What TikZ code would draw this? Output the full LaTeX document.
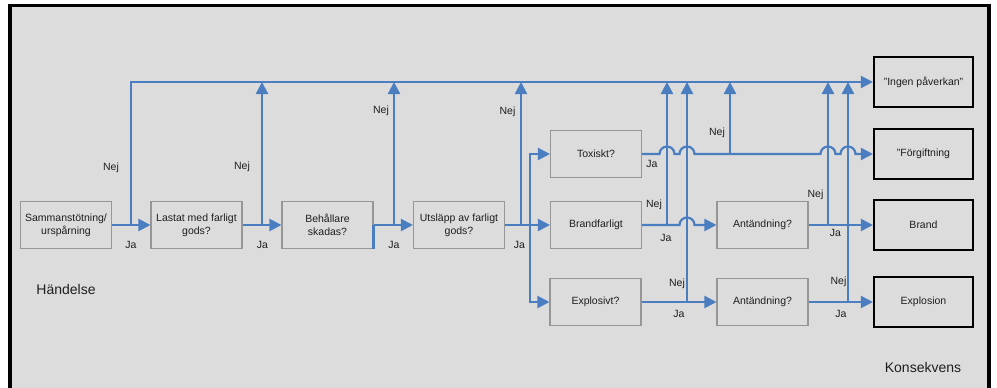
\documentclass[tikz,border=0pt]{standalone}
\usepackage{fontspec}
\setmainfont{Liberation Sans}
\usetikzlibrary{arrows.meta}
\definecolor{flow}{RGB}{74,126,193}
\definecolor{panel}{RGB}{220,220,220}
\definecolor{boxline}{RGB}{150,150,150}
\definecolor{ink}{RGB}{30,30,30}

\begin{document}
\begin{tikzpicture}[x=1pt,y=-1pt,
  every node/.style={font=\fontsize{10.5}{13}\selectfont, text=ink},
  question/.style={draw=boxline, line width=1.1pt, minimum width=91pt,
    minimum height=47pt, align=center, inner sep=1pt},
  outcome/.style={draw=black, line width=2.2pt, minimum width=99pt,
    minimum height=50pt, align=center},
  flowline/.style={draw=flow, line width=2.2pt},
  arr/.style={flowline, -{Triangle[length=12pt,width=12pt]}},
  lbl/.style={inner sep=0pt},
  heading/.style={font=\fontsize{14}{16}\selectfont}
]
\useasboundingbox (0,0) rectangle (997,388);

% panel with its black frame
\begin{scope}
  \clip (0,0) rectangle (997,388);
  \draw[line width=3.5pt, fill=panel] (10,5.5) rectangle (989,400);
\end{scope}

% decision boxes
\node[question] (q0) at (66,225) {Sammanstötning/\\urspårning};
\node[question] (q1) at (196.5,225) {Lastat med farligt\\gods?};
\node[question] (q2) at (327.5,225) {Behållare\\skadas?};
\node[question] (q3) at (459,225) {Utsläpp av farligt\\gods?};
\node[question] (tox) at (596,154) {Toxiskt?};
\node[question] (brf) at (596,225) {Brandfarligt};
\node[question] (exp) at (595.5,302) {Explosivt?};
\node[question] (ign1) at (762.5,225) {Antändning?};
\node[question] (ign2) at (762.5,302) {Antändning?};

% consequences
\node[outcome] (none) at (923.5,82) {"Ingen påverkan"};
\node[outcome] (pois) at (923.5,154) {"Förgiftning};
\node[outcome] (fire) at (923.5,225) {Brand};
\node[outcome] (blast) at (923.5,302) {Explosion};

% branch points
\coordinate (j0) at (131,225);
\coordinate (j1) at (262,225);
\coordinate (j2) at (394,225);
\coordinate (j3) at (521,225);
\coordinate (sp) at (530,225);
\coordinate (b1) at (667,225);
\coordinate (b2) at (687,302);
\coordinate (t1) at (730,154);
\coordinate (a1) at (828,225);
\coordinate (a2) at (848,302);

% "Ja" chain
\draw[arr] (q0.east) -- (q1.west);
\draw[arr] (q1.east) -- (q2.west);
\draw[flowline] (q2.east) -- (q2.south east);
\draw[arr] (q2.east) -- (q3.west);
\draw[arr] (q3.east) -- (brf.west);
\draw[arr] (sp) |- (tox.west);
\draw[arr] (sp) |- (exp.west);
\draw[arr] (exp.east) -- (ign2.west);
\draw[arr] (ign1.east) -- (fire.west);
\draw[arr] (ign2.east) -- (blast.west);

% "Nej" branches to the top bus
\draw[arr] (j0) -- (j0 |- none.west) -- (none.west);
\foreach \p in {j1,j2,j3,b1,b2,t1,a1,a2}
  \draw[arr] (\p) -- (\p |- none.west);

% lines hopping over the verticals
\draw[arr] (tox.east) -- (659.5,154) arc[start angle=180,end angle=0,radius=7.5pt]
  -- (679.5,154) arc[start angle=180,end angle=0,radius=7.5pt]
  -- (820.5,154) arc[start angle=180,end angle=0,radius=7.5pt]
  -- (840.5,154) arc[start angle=180,end angle=0,radius=7.5pt]
  -- (pois.west);
\draw[arr] (brf.east) -- (679.5,225) arc[start angle=180,end angle=0,radius=7.5pt]
  -- (ign1.west);

% answer labels
\node[lbl] (n0) at (111,168) {Nej};
\node[lbl] (y0) at (131,245) {Ja};
\node[lbl] (n1) at (242,167) {Nej};
\node[lbl] (y1) at (262.5,245) {Ja};
\node[lbl] (n2) at (381,111) {Nej};
\node[lbl] (y2) at (394,245) {Ja};
\node[lbl] (n3) at (507.5,111.5) {Nej};
\node[lbl] (y3) at (519.5,245) {Ja};
\node[lbl] (yt) at (652,164) {Ja};
\node[lbl] (nt) at (717,133) {Nej};
\node[lbl] (nb) at (654,205) {Nej};
\node[lbl] (yb) at (666,238) {Ja};
\node[lbl] (ne) at (677,284) {Nej};
\node[lbl] (ye) at (679,314) {Ja};
\node[lbl] (na1) at (815.5,195) {Nej};
\node[lbl] (ya1) at (835.5,233) {Ja};
\node[lbl] (na2) at (838.5,282) {Nej};
\node[lbl] (ya2) at (841,314) {Ja};

% column headings
\node[heading] (ev) at (66,289) {Händelse};
\node[heading] (co) at (923,367) {Konsekvens};
\end{tikzpicture}
\end{document}
